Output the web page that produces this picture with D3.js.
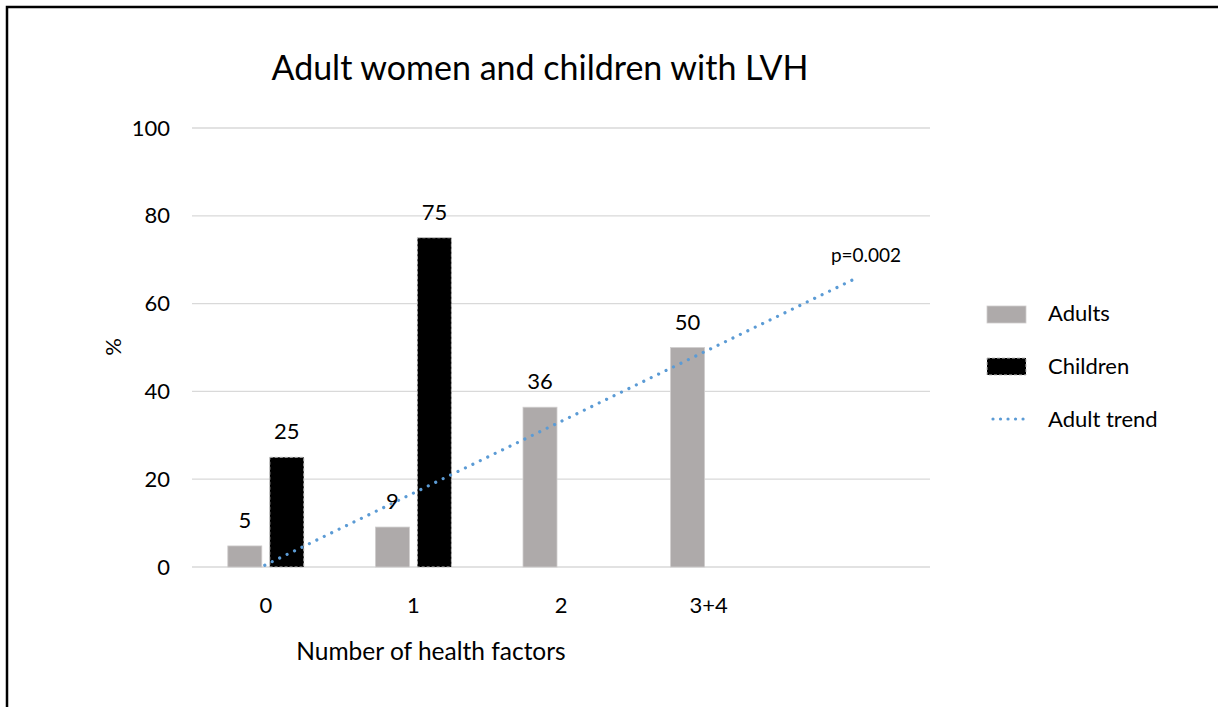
<!DOCTYPE html>
<html><head><meta charset="utf-8">
<script src="https://cdn.jsdelivr.net/npm/d3@7/dist/d3.min.js"></script>
<style>
html,body{margin:0;padding:0;background:#fff;}
svg{display:block;font-family:Lato,"Open Sans",sans-serif;}
</style></head>
<body>
<svg id="c" width="1218" height="707"></svg>
<script>
const categories = ["0","1","2","3+4",""];
const adults = [4.8, 9.1, 36.4, 50];
const adultLabels = ["5","9","36","50"];
const children = [25, 75, null, null];
const childLabels = ["25","75"];
const trendEnds = [0.4, 65.8]; // trend value read at first and last category
const yTicks = [0,20,40,60,80,100];

const FONT = "Lato,'Open Sans',sans-serif";
const svg = d3.select("#c");
// frame
svg.append("rect").attr("x",7).attr("y",7).attr("width",1230).attr("height",720)
  .attr("fill","none").attr("stroke","#000").attr("stroke-width",2.5);

const x = d3.scaleBand().domain(categories.map((d,i)=>i)).range([192,930]);
const y = d3.scaleLinear().domain([0,100]).range([567,128]);
const bw = 34, gap = 8;

// gridlines
svg.append("g").selectAll("line").data(yTicks).join("line")
  .attr("x1",192).attr("x2",930).attr("y1",d=>y(d)).attr("y2",d=>y(d))
  .attr("stroke","#d9d9d9").attr("stroke-width",1.3);

// y axis labels
const ya = svg.append("g").attr("transform","translate(170,0)")
  .call(d3.axisLeft(y).tickValues(yTicks).tickSize(0).tickPadding(0));
ya.select(".domain").remove();
ya.selectAll("text").attr("font-size",22).attr("font-family",FONT).attr("fill","#000");

// x axis labels
const xa = svg.append("g").attr("transform","translate(0,597)")
  .call(d3.axisBottom(x).tickSize(0).tickPadding(0).tickFormat(i=>categories[i]));
xa.select(".domain").remove();
xa.selectAll("text").attr("font-size",22).attr("font-family",FONT).attr("fill","#000");

const cx = i => x(i) + x.bandwidth()/2;

// adult bars
svg.append("g").selectAll("rect").data(adults).join("rect")
  .attr("x",(d,i)=>cx(i)-gap/2-bw).attr("width",bw)
  .attr("y",d=>y(d)).attr("height",d=>y(0)-y(d))
  .attr("fill","#aeaaaa").attr("stroke","#d0cece").attr("stroke-width",0.8);
// children bars
svg.append("g").selectAll("rect").data(children.map((v,i)=>({v,i})).filter(d=>d.v!=null)).join("rect")
  .attr("x",d=>cx(d.i)+gap/2).attr("width",bw)
  .attr("y",d=>y(d.v)).attr("height",d=>y(0)-y(d.v))
  .attr("fill","#000").attr("stroke","#bfbfbf").attr("stroke-width",1).attr("stroke-dasharray","3,2");

// labels
svg.append("g").selectAll("text").data(adults).join("text")
  .attr("x",(d,i)=>cx(i)-gap/2-bw/2).attr("y",d=>y(d)-18)
  .attr("text-anchor","middle").attr("font-size",22).text((d,i)=>adultLabels[i]);
svg.append("g").selectAll("text").data(children.map((v,i)=>({v,i})).filter(d=>d.v!=null)).join("text")
  .attr("x",d=>cx(d.i)+gap/2+bw/2).attr("y",d=>y(d.v)-18)
  .attr("text-anchor","middle").attr("font-size",22).text((d,k)=>childLabels[k]);

// trend
const tx = [cx(0)-1, cx(categories.length-1)];
svg.append("line").attr("x1",tx[0]).attr("y1",y(trendEnds[0])).attr("x2",tx[1]).attr("y2",y(trendEnds[1]))
  .attr("stroke","#5b9bd5").attr("stroke-width",3.2).attr("stroke-linecap","round").attr("stroke-dasharray","0.01,8.25");
svg.append("text").attr("x",866).attr("y",262).attr("text-anchor","middle").attr("font-size",19).text("p=0.002");

// title
svg.append("text").attr("x",540).attr("y",80).attr("text-anchor","middle").attr("font-size",34).text("Adult women and children with LVH");
// axis titles
svg.append("text").attr("transform","translate(121,347) rotate(-90)").attr("text-anchor","middle").attr("font-size",22).text("%");
svg.append("text").attr("x",431).attr("y",660).attr("text-anchor","middle").attr("font-size",24.5).text("Number of health factors");

// legend
const lg = svg.append("g");
lg.append("rect").attr("x",987).attr("y",306).attr("width",39).attr("height",17).attr("fill","#aeaaaa").attr("stroke","#d0cece").attr("stroke-width",0.8);
lg.append("rect").attr("x",987).attr("y",358).attr("width",39).attr("height",17).attr("fill","#000").attr("stroke","#bfbfbf").attr("stroke-width",1).attr("stroke-dasharray","3,2");
lg.append("line").attr("x1",993).attr("x2",1024).attr("y1",419).attr("y2",419)
  .attr("stroke","#5b9bd5").attr("stroke-width",3.2).attr("stroke-linecap","round").attr("stroke-dasharray","0.01,7.5");
const lt = ["Adults","Children","Adult trend"];
lg.selectAll("text.l").data(lt).join("text").attr("class","l")
  .attr("x",1048).attr("y",(d,i)=>321+i*53).attr("font-size",22).text(d=>d);
</script>
</body></html>
